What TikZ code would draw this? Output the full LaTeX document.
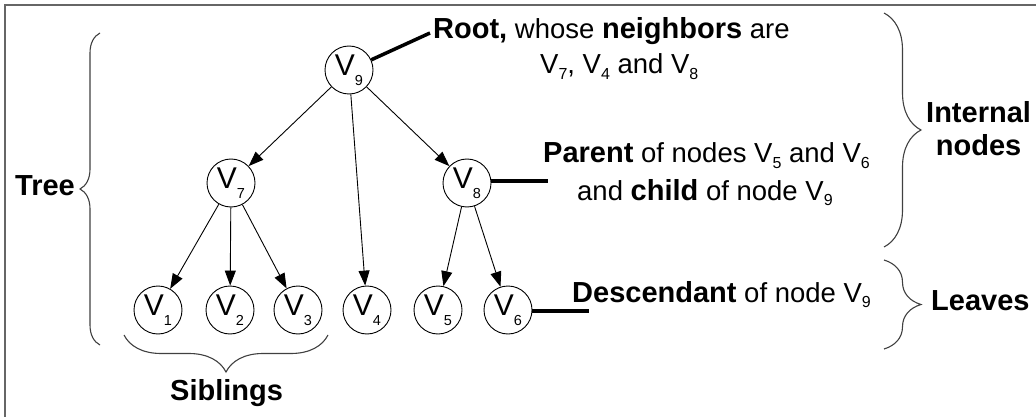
\documentclass[tikz,border=0pt]{standalone}
\usepackage{fontspec}
\setmainfont{Liberation Sans}
\newfontfamily\plainfont{Liberation Sans}
\newfontfamily\boldfont{Liberation Sans}
\usetikzlibrary{arrows.meta,decorations.pathreplacing}
\newcommand\lsub[1]{\raisebox{-5.5pt}{\fontsize{16}{16}\selectfont #1}}
\newcommand\csub[1]{\raisebox{-10pt}{\fontsize{14.5}{14.5}\selectfont #1}}
\newcommand\bw[1]{{\boldfont\bfseries\fontsize{29}{30}\selectfont #1}}
\begin{document}
\begin{tikzpicture}[x=1pt,y=-1pt,
  vnode/.style={circle,draw,line width=0.9pt,minimum size=48pt,inner sep=0pt,font=\fontsize{30}{30}\selectfont},
  edge/.style={line width=0.9pt,-{Triangle[length=15pt,width=11pt]}},
  thickline/.style={line width=3.5pt},
  lbl/.style={anchor=base west,inner sep=0pt,font=\plainfont\fontsize{27.5}{28}\selectfont},
  brc/.style={decorate,decoration={brace,amplitude=#1},draw=black!75,line width=1.1pt},
]
\useasboundingbox (0,0) rectangle (1036,417);
\draw[black!60,line width=1.5pt] (1036,5) -- (5,5) -- (5,417);

% tree nodes
\node[vnode] (v9) at (349,70) {V\csub{9}};
\node[vnode] (v7) at (231,183) {V\csub{7}};
\node[vnode] (v8) at (467,183) {V\csub{8}};
\node[vnode] (v1) at (158,310) {V\csub{1}};
\node[vnode] (v2) at (230,310) {V\csub{2}};
\node[vnode] (v3) at (298,310) {V\csub{3}};
\node[vnode] (v4) at (367,310) {V\csub{4}};
\node[vnode] (v5) at (438,310) {V\csub{5}};
\node[vnode] (v6) at (508,310) {V\csub{6}};

% edges
\draw[edge] (v9) -- (v7);
\draw[edge] (v9) -- (v4);
\draw[edge] (v9) -- (v8);
\draw[edge] (v7) -- (v1);
\draw[edge] (v7) -- (v2);
\draw[edge] (v7) -- (v3);
\draw[edge] (v8) -- (v5);
\draw[edge] (v8) -- (v6);

% labels
\node[lbl] (root) at (433,39) {\bw{Root,} whose \bw{neighbors} are};
\node[lbl] (nb) at (540,74) {V\lsub{7}, V\lsub{4} and V\lsub{8}};
\node[lbl] (par) at (543,163) {\bw{Parent} of nodes V\lsub{5} and V\lsub{6}};
\node[lbl] (chi) at (577,200) {and \bw{child} of node V\lsub{9}};
\node[lbl] (des) at (572,302) {\bw{Descendant} of node V\lsub{9}};
\node[lbl] (int) at (926,123) {\bw{Internal}};
\node[lbl,anchor=base] (nod) at (int.base |- 0,155) {\bw{nodes}};
\node[lbl] (lea) at (931,310) {\bw{Leaves}};
\node[lbl] (tre) at (15,195) {\bw{Tree}};
\node[lbl] (sib) at (170,400) {\bw{Siblings}};

% pointer lines
\coordinate (rootend) at (430,33);
\coordinate (v8end) at (548,181);
\coordinate (v6end) at (589,311);
\draw[thickline] (v9) -- (rootend);
\draw[thickline] (v8.east |- v8end) -- (v8end);
\draw[thickline] (v6.east |- v6end) -- (v6end);

% braces
\draw[brc=20] (100,345) -- (100,33);
\draw[brc=37] (884,13) -- (884,247);
\draw[brc=37] (884,260) -- (884,349);
\draw[brc=37] (328,335) -- (124,335);
\end{tikzpicture}
\end{document}
